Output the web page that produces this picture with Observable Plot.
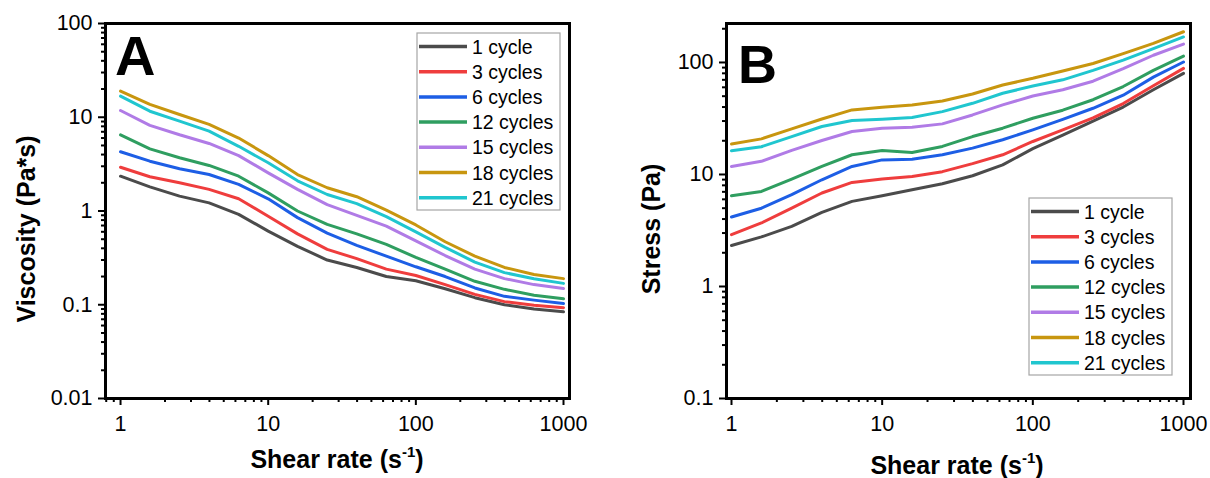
<!DOCTYPE html>
<html><head><meta charset="utf-8">
<script src="https://cdn.jsdelivr.net/npm/d3@7"></script>
<script src="https://cdn.jsdelivr.net/npm/@observablehq/plot@0.6"></script>
<style>
html,body{margin:0;padding:0;background:#fff;}
#root{position:relative;width:1210px;height:478px;overflow:hidden;font-family:'Liberation Sans',Arial,sans-serif;}
#panelA,#panelB{position:absolute;top:0;}
#panelA{left:0;} #panelB{left:605px;}
#overlay{position:absolute;left:0;top:0;pointer-events:none;}
</style></head><body>
<div id="root"><div id="panelA"></div><div id="panelB"></div><svg id="overlay" width="1210" height="478"></svg></div>
<script>
// ---- data ----
const shearRate = [1, 1.58, 2.51, 3.98, 6.31, 10, 15.8, 25.1, 39.8, 63.1, 100, 158, 251, 398, 631, 1000];
const cycles = ["1 cycle", "3 cycles", "6 cycles", "12 cycles", "15 cycles", "18 cycles", "21 cycles"];
const lineColors = ["#4b4b4b", "#ef3d3d", "#1d5ee5", "#2f9e60", "#b07be6", "#c8960f", "#20c6cf"];

// Panel A: viscosity (Pa*s)
const viscosity1  = [2.35, 1.81, 1.44, 1.22, 0.92, 0.61, 0.42, 0.30, 0.25, 0.20, 0.18, 0.148, 0.119, 0.100, 0.090, 0.084];
const viscosity3  = [2.93, 2.32, 2.00, 1.70, 1.35, 0.88, 0.57, 0.39, 0.31, 0.24, 0.205, 0.164, 0.129, 0.108, 0.099, 0.093];
const viscosity6  = [4.28, 3.40, 2.82, 2.45, 1.92, 1.35, 0.85, 0.58, 0.43, 0.33, 0.254, 0.200, 0.151, 0.123, 0.112, 0.103];
const viscosity12 = [6.5, 4.6, 3.7, 3.06, 2.35, 1.56, 1.00, 0.72, 0.57, 0.44, 0.32, 0.24, 0.178, 0.146, 0.126, 0.116];
const viscosity15 = [11.8, 8.2, 6.5, 5.25, 3.9, 2.55, 1.70, 1.17, 0.90, 0.69, 0.48, 0.335, 0.24, 0.19, 0.164, 0.149];
const viscosity18 = [19.0, 13.7, 10.7, 8.4, 6.0, 3.9, 2.45, 1.77, 1.42, 1.02, 0.71, 0.47, 0.33, 0.25, 0.21, 0.19];
const viscosity21 = [16.8, 11.6, 9.1, 7.1, 4.9, 3.27, 2.10, 1.50, 1.20, 0.87, 0.60, 0.41, 0.285, 0.22, 0.189, 0.169];

// Panel B: stress (Pa)
const stress1  = [2.32, 2.77, 3.44, 4.59, 5.75, 6.46, 7.3, 8.27, 9.74, 12.2, 17.0, 22.5, 30, 40, 57, 80];
const stress3  = [2.9, 3.69, 5.0, 6.83, 8.49, 9.1, 9.6, 10.6, 12.5, 15.0, 19.7, 25, 32, 43, 62, 88.5];
const stress6  = [4.17, 5.0, 6.6, 8.97, 11.8, 13.5, 13.7, 15.0, 17.2, 20.4, 25, 31, 39, 51, 74, 101];
const stress12 = [6.46, 7.06, 9.1, 11.8, 15.0, 16.4, 15.7, 17.8, 21.8, 25.9, 31.8, 37.5, 46.5, 61, 85, 114];
const stress15 = [11.8, 13.1, 16.4, 20.1, 24.2, 25.9, 26.4, 28.3, 34, 41.8, 50.2, 57, 68, 88, 116, 146];
const stress18 = [18.7, 20.8, 25.5, 31.3, 37.7, 39.8, 41.8, 45.3, 52.3, 62.9, 72.2, 84, 98, 120, 148, 188];
const stress21 = [16.3, 17.7, 21.8, 26.8, 30.3, 31.1, 32.2, 36.4, 43.2, 53.1, 61.6, 70, 85, 105, 133, 169];

// axis ticks
const xMajorTicks = [1, 10, 100, 1000];
const xMinorTicksA = [0.8, 0.9, 2, 3, 4, 5, 6, 7, 8, 9, 20, 30, 40, 50, 60, 70, 80, 90, 200, 300, 400, 500, 600, 700, 800, 900];
const xMinorTicksB = [2, 3, 4, 5, 6, 7, 8, 9, 20, 30, 40, 50, 60, 70, 80, 90, 200, 300, 400, 500, 600, 700, 800, 900];
const yMajorTicksA = [0.01, 0.1, 1, 10, 100];
const yMinorTicksA = [0.02, 0.03, 0.04, 0.05, 0.06, 0.07, 0.08, 0.09, 0.2, 0.3, 0.4, 0.5, 0.6, 0.7, 0.8, 0.9, 2, 3, 4, 5, 6, 7, 8, 9, 20, 30, 40, 50, 60, 70, 80, 90];
const yMajorTicksB = [0.1, 1, 10, 100];
const yMinorTicksB = [0.2, 0.3, 0.4, 0.5, 0.6, 0.7, 0.8, 0.9, 2, 3, 4, 5, 6, 7, 8, 9, 20, 30, 40, 50, 60, 70, 80, 90, 200];

const viscositySeries = [viscosity1, viscosity3, viscosity6, viscosity12, viscosity15, viscosity18, viscosity21];
const stressSeries = [stress1, stress3, stress6, stress12, stress15, stress18, stress21];

function toRows(list) {
  return list.flatMap((vals, i) => vals.map((v, j) => ({rate: shearRate[j], value: v, cycle: cycles[i]})));
}

const FONT = "'Liberation Sans', Arial, Helvetica, sans-serif";

function panel({rows, xDomain, yDomain, xMinor, yMajor, yMinor, marginLeft, marginRight}) {
  return Plot.plot({
    width: 605, height: 478,
    marginTop: 23, marginBottom: 80, marginLeft, marginRight,
    x: {type: "log", domain: xDomain},
    y: {type: "log", domain: yDomain},
    color: {domain: cycles, range: lineColors},
    style: {fontFamily: FONT, fontSize: "21.5px", color: "#000", background: "transparent", overflow: "visible"},
    marks: [
      Plot.axisX({ticks: xMajorTicks, tickSize: 7, tickPadding: 10, tickFormat: d => String(d), strokeWidth: 2, label: null}),
      Plot.axisX({ticks: xMinor, tickSize: 4, tickFormat: () => "", strokeWidth: 2, label: null}),
      Plot.axisY({ticks: yMajor, tickSize: 7, tickPadding: 6, tickFormat: d => String(d), strokeWidth: 2, label: null}),
      Plot.axisY({ticks: yMinor, tickSize: 4, tickFormat: () => "", strokeWidth: 2, label: null}),
      Plot.line(rows, {x: "rate", y: "value", z: "cycle", stroke: "cycle", strokeWidth: 3}),
      Plot.frame({strokeWidth: 3})
    ]
  });
}

document.getElementById("panelA").append(panel({
  rows: toRows(viscositySeries), xDomain: [0.791, 1098], yDomain: [0.01, 100],
  xMinor: xMinorTicksA, yMajor: yMajorTicksA, yMinor: yMinorTicksA, marginLeft: 105, marginRight: 36
}));
document.getElementById("panelB").append(panel({
  rows: toRows(stressSeries), xDomain: [0.9265, 1113], yDomain: [0.1, 222.8],
  xMinor: xMinorTicksB, yMajor: yMajorTicksB, yMinor: yMinorTicksB, marginLeft: 121, marginRight: 20
}));

// ---- overlay: panel letters, axis titles, legends ----
const svg = d3.select("#overlay").attr("font-family", FONT);

svg.append("text").attr("x", 115).attr("y", 75).attr("font-size", 56).attr("font-weight", "bold").text("A");
svg.append("text").attr("x", 738).attr("y", 83).attr("font-size", 54).attr("font-weight", "bold").text("B");

function xTitle(cx, by) {
  const t = svg.append("text").attr("x", cx).attr("y", by).attr("text-anchor", "middle")
    .attr("font-size", 25).attr("font-weight", "bold");
  t.append("tspan").text("Shear rate (s");
  t.append("tspan").attr("font-size", 15).attr("dy", -11).text("-1");
  t.append("tspan").attr("dy", 11).text(")");
}
xTitle(337, 468);
xTitle(957, 474);

function yTitle(bx, cy, label) {
  svg.append("text").attr("transform", `translate(${bx},${cy}) rotate(-90)`).attr("text-anchor", "middle")
    .attr("font-size", 25).attr("font-weight", "bold").text(label);
}
yTitle(35, 229, "Viscosity (Pa*s)");
yTitle(660, 229, "Stress (Pa)");

function legend(x0, y0) {
  const g = svg.append("g").attr("transform", `translate(${x0},${y0})`);
  g.append("rect").attr("width", 143).attr("height", 177).attr("fill", "white")
    .attr("stroke", "#a6a6a6").attr("stroke-width", 1.2);
  cycles.forEach((c, i) => {
    const cy = 13.5 + i * 25.2;
    g.append("line").attr("x1", 2).attr("x2", 50).attr("y1", cy).attr("y2", cy)
      .attr("stroke", lineColors[i]).attr("stroke-width", 3.5);
    g.append("text").attr("x", 55).attr("y", cy).attr("dy", "0.36em").attr("font-size", 19.5).text(c);
  });
}
legend(417, 33);
legend(1029, 198);
</script>
</body></html>
